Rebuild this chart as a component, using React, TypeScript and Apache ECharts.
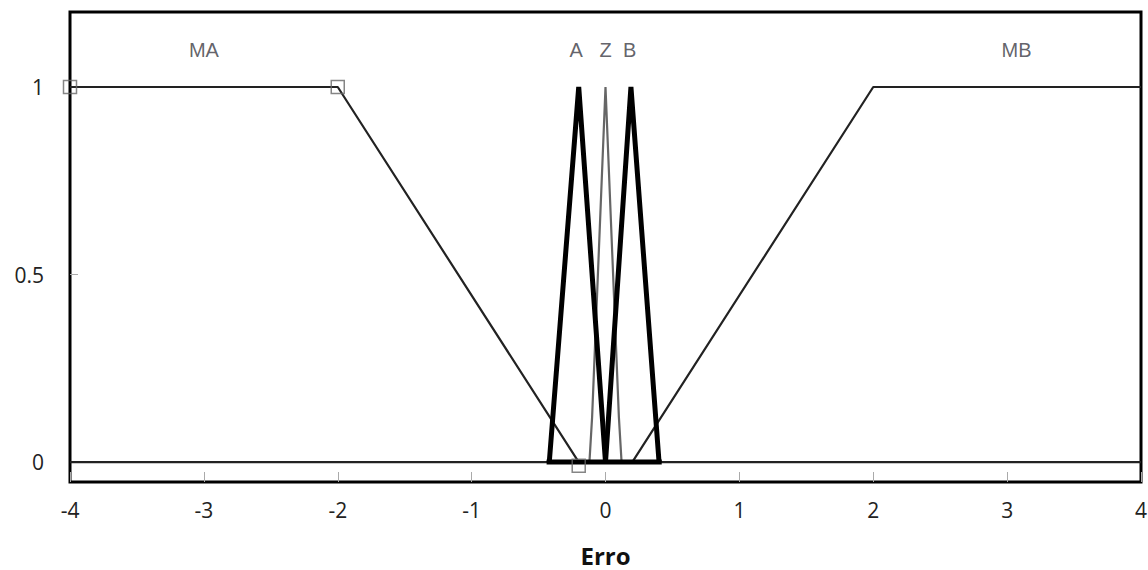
import React, { useEffect, useRef } from "react";
import * as echarts from "echarts";

const xTicks = [-4, -3, -2, -1, 0, 1, 2, 3, 4];
const yTicks = [0, 0.5, 1];

const maX = [-4, -2, -0.2, 4];
const maY = [1, 1, 0, 0];
const mbX = [-4, 0.2, 2, 4];
const mbY = [0, 0, 1, 1];
const aX = [-0.42, -0.2, 0];
const aY = [0, 1, 0];
const zX = [-0.12, -0.1, 0, 0.1, 0.12];
const zY = [0, 0.12, 1, 0.12, 0];
const bX = [0, 0.19, 0.4];
const bY = [0, 1, 0];
const baseX = [-0.44, 0.42];
const baseY = [0, 0];

const markerX = [-4, -2, -0.2];
const markerY = [1, 1, -0.01];

const setNames = ["MA", "A", "Z", "B", "MB"];
const setNameX = [-3, -0.22, 0, 0.18, 3.07];
const setNameY = [1.1, 1.1, 1.1, 1.1, 1.1];

const zip = (xs: number[], ys: number[]) => xs.map((x, i) => [x, ys[i]]);

export default function App() {
  const ref = useRef<HTMLDivElement>(null);
  useEffect(() => {
    const chart = echarts.init(ref.current!, null, { renderer: "svg" });
    const font = "'Open Sans', 'Noto Sans', sans-serif";
    chart.setOption({
      animation: false,
      backgroundColor: "#ffffff",
      grid: {
        left: 70,
        right: 7,
        top: 12,
        bottom: 88,
        show: true,
        borderColor: "#000",
        borderWidth: 3,
        outerBoundsMode: "none",
        containLabel: false,
      },
      xAxis: {
        type: "value",
        min: -4,
        max: 4,
        interval: 1,
        name: "Erro",
        nameLocation: "middle",
        nameGap: 61,
        nameTextStyle: { fontFamily: font, fontSize: 24, fontWeight: "bold", color: "#111" },
        axisLine: { show: false, onZero: false },
        axisTick: { show: true, inside: true, length: 10, lineStyle: { color: "#aaa" } },
        splitLine: { show: false },
        axisLabel: {
          margin: 17,
          fontFamily: font,
          fontSize: 21,
          color: "#222",
          customValues: xTicks,
        },
      },
      yAxis: {
        type: "value",
        min: -0.053,
        max: 1.2,
        axisLine: { show: false, onZero: false },
        axisTick: { show: true, inside: true, length: 8, lineStyle: { color: "#aaa" }, customValues: yTicks },
        splitLine: { show: false },
        axisLabel: {
          margin: 26,
          fontFamily: font,
          fontSize: 21,
          color: "#222",
          customValues: yTicks,
        },
      },
      series: [
        {
          name: "Z",
          type: "line",
          data: zip(zX, zY),
          symbol: "none",
          lineStyle: { color: "#666", width: 2.2 },
          z: 2,
        },
        {
          name: "MA",
          type: "line",
          data: zip(maX, maY),
          symbol: "none",
          lineStyle: { color: "#222", width: 2.2 },
          z: 3,
        },
        {
          name: "MB",
          type: "line",
          data: zip(mbX, mbY),
          symbol: "none",
          lineStyle: { color: "#222", width: 2.2 },
          z: 3,
        },
        {
          name: "A",
          type: "line",
          data: zip(aX, aY),
          symbol: "none",
          lineStyle: { color: "#000", width: 5, join: "miter" },
          z: 4,
        },
        {
          name: "B",
          type: "line",
          data: zip(bX, bY),
          symbol: "none",
          lineStyle: { color: "#000", width: 5, join: "miter" },
          z: 4,
        },
        {
          name: "base",
          type: "line",
          data: zip(baseX, baseY),
          symbol: "none",
          lineStyle: { color: "#000", width: 5 },
          z: 4,
        },
        {
          name: "markers",
          type: "scatter",
          data: zip(markerX, markerY),
          symbol: "rect",
          symbolSize: 13,
          itemStyle: { color: "rgba(255,255,255,0)", borderColor: "#666", borderWidth: 1.5 },
          z: 5,
        },
        {
          name: "labels",
          type: "scatter",
          data: zip(setNameX, setNameY).map((p, i) => ({ value: p, name: setNames[i] })),
          symbolSize: 0,
          label: {
            show: true,
            position: "inside",
            formatter: (p: any) => p.name,
            fontFamily: "'Liberation Sans', Arial, sans-serif",
            fontSize: 20,
            color: "#3a3a44",
          },
          z: 6,
        },
      ],
    });
    return () => chart.dispose();
  }, []);
  return (
    <div
      ref={ref}
      style={{ position: "fixed", left: 0, top: 0, width: 1148, height: 570, background: "#fff" }}
    />
  );
}
